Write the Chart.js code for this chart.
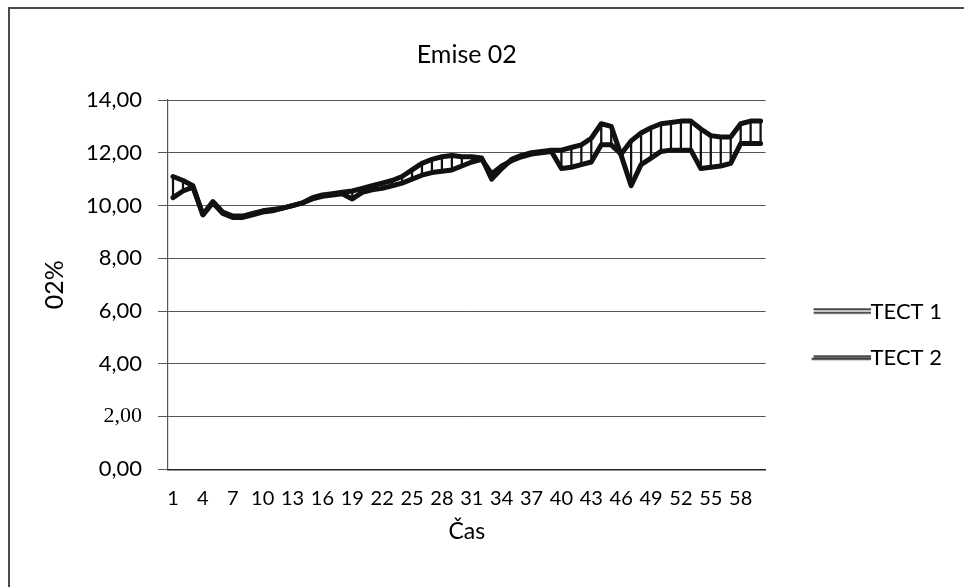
<!DOCTYPE html>
<html><head><meta charset="utf-8">
<script src="https://cdn.jsdelivr.net/npm/chart.js@4.4.1/dist/chart.umd.min.js"></script>
<style>
html,body{margin:0;padding:0;background:#fff;overflow:hidden;width:964px;height:587px}
#frame{position:absolute;left:8px;top:7px;width:1000px;height:1000px;border-left:2px solid #4a4a4a;border-top:2px solid #4a4a4a;}
#wrap{position:absolute;left:0;top:0;width:964px;height:587px}
</style></head><body>
<div id="frame"></div>
<div id="wrap"><canvas id="c" width="964" height="587"></canvas></div>
<script>
const categories = ['1','2','3','4','5','6','7','8','9','10','11','12','13','14','15','16','17','18','19','20',
  '21','22','23','24','25','26','27','28','29','30','31','32','33','34','35','36','37','38','39','40',
  '41','42','43','44','45','46','47','48','49','50','51','52','53','54','55','56','57','58','59','60'];
const tickLabels = ['1','4','7','10','13','16','19','22','25','28','31','34','37','40','43','46','49','52','55','58'];
const tect1 = [11.1,10.95,10.75,9.65,10.15,9.75,9.6,9.6,9.7,9.8,
  9.85,9.9,10.0,10.1,10.3,10.4,10.45,10.5,10.55,10.65,
  10.75,10.85,10.95,11.1,11.35,11.6,11.75,11.85,11.9,11.85,
  11.85,11.8,11.0,11.4,11.75,11.9,12.0,12.05,12.1,12.1,
  12.2,12.3,12.55,13.1,13.0,11.9,10.75,11.55,11.8,12.05,
  12.1,12.1,12.1,11.4,11.45,11.5,11.6,12.35,12.35,12.35];
const tect2 = [10.3,10.55,10.7,9.65,10.1,9.7,9.55,9.55,9.65,9.75,
  9.8,9.9,10.0,10.1,10.25,10.35,10.4,10.45,10.25,10.5,
  10.6,10.65,10.75,10.85,11.0,11.15,11.25,11.3,11.35,11.5,
  11.65,11.75,11.2,11.5,11.7,11.85,11.95,12.0,12.05,11.4,
  11.45,11.55,11.65,12.3,12.3,11.95,12.45,12.75,12.95,13.1,
  13.15,13.2,13.2,12.9,12.65,12.6,12.6,13.1,13.2,13.2];
const yTicks = [0,2,4,6,8,10,12,14];

const hiLo = categories.map((c, i) => [Math.min(tect1[i], tect2[i]), Math.max(tect1[i], tect2[i])]);

function legendImg(kind) {
  const cv = document.createElement('canvas');
  cv.width = 92; cv.height = 9;
  const g = cv.getContext('2d');
  const x0 = 35, x1 = 92;
  if (kind === 1) {
    g.fillStyle = '#111'; g.fillRect(x0, 1, x1 - x0, 1.6);
    g.fillRect(x0, 4.6, x1 - x0, 1.6);
  } else {
    g.fillStyle = '#111'; g.fillRect(x0, 2, x1 - x0, 1.6);
    g.fillStyle = '#777'; g.fillRect(x0, 3.6, x1 - x0, 1);
    g.fillStyle = '#111'; g.fillRect(x0 - 2, 4.6, x1 - x0 + 2, 1.8);
  }
  return cv;
}

const FONT = 'Lato, "Open Sans", sans-serif';

new Chart(document.getElementById('c'), {
  type: 'line',
  data: {
    labels: categories,
    datasets: [
      {label: 'TECT 1', data: tect1, borderColor: '#111', backgroundColor: '#111', borderWidth: 5,
        pointRadius: 0, pointStyle: legendImg(1), tension: 0, borderJoinStyle: 'round', borderCapStyle: 'round', fill: false, order: 0},
      {label: 'TECT 2', data: tect2, borderColor: '#111', backgroundColor: '#111', borderWidth: 5,
        pointRadius: 0, pointStyle: legendImg(2), tension: 0, borderJoinStyle: 'round', borderCapStyle: 'round', fill: false, order: 0},
      {type: 'bar', label: 'hilo', data: hiLo, backgroundColor: '#111', borderWidth: 0, barThickness: 1.6, order: 1}
    ]
  },
  options: {
    responsive: false, animation: false, devicePixelRatio: 1,
    layout: {padding: {left: 30, right: 12, top: 10, bottom: 42}},
    plugins: {
      title: {display: true, text: 'Emise 02', fullSize: false, color: '#000',
        font: {family: FONT, size: 25, weight: 'normal'}, padding: {top: 30, bottom: 30}},
      legend: {position: 'right', fullSize: false,
        title: {display: true, text: '', padding: {top: 43, bottom: 43}},
        labels: {usePointStyle: true, pointStyleWidth: 70, padding: 24, color: '#000',
          font: {family: FONT, size: 22},
          filter: (item) => item.datasetIndex < 2}},
      tooltip: {enabled: false}
    },
    scales: {
      x: {offset: true,
        grid: {display: false, drawTicks: true, tickLength: 10},
        border: {display: true, color: '#222', width: 1.5},
        ticks: {autoSkip: false, maxRotation: 0, minRotation: 0, padding: 7, color: '#000',
          font: {family: FONT, size: 20},
          callback: function(v, i) { const l = categories[i]; return tickLabels.includes(l) ? l : ''; }},
        title: {display: true, text: 'Čas', color: '#000', font: {family: FONT, size: 23}, padding: 0}
      },
      y: {min: 0, max: 14,
        afterBuildTicks: (s) => { s.ticks = yTicks.map(v => ({value: v})); },
        grid: {color: '#555', lineWidth: 1, tickLength: 10},
        border: {display: true, color: '#555', width: 1.2},
        ticks: {padding: 16, color: '#000',
          font: (ctx) => (ctx.tick && ctx.tick.value === 2) ? {family: '"Liberation Serif", serif', size: 22} : {family: FONT, size: 22},
          callback: (v) => v.toFixed(2).replace('.', ',')},
        title: {display: true, text: '02%', color: '#000', font: {family: FONT, size: 25}, padding: {top: 10, bottom: 0}}
      }
    }
  }
});
</script>
</body></html>
